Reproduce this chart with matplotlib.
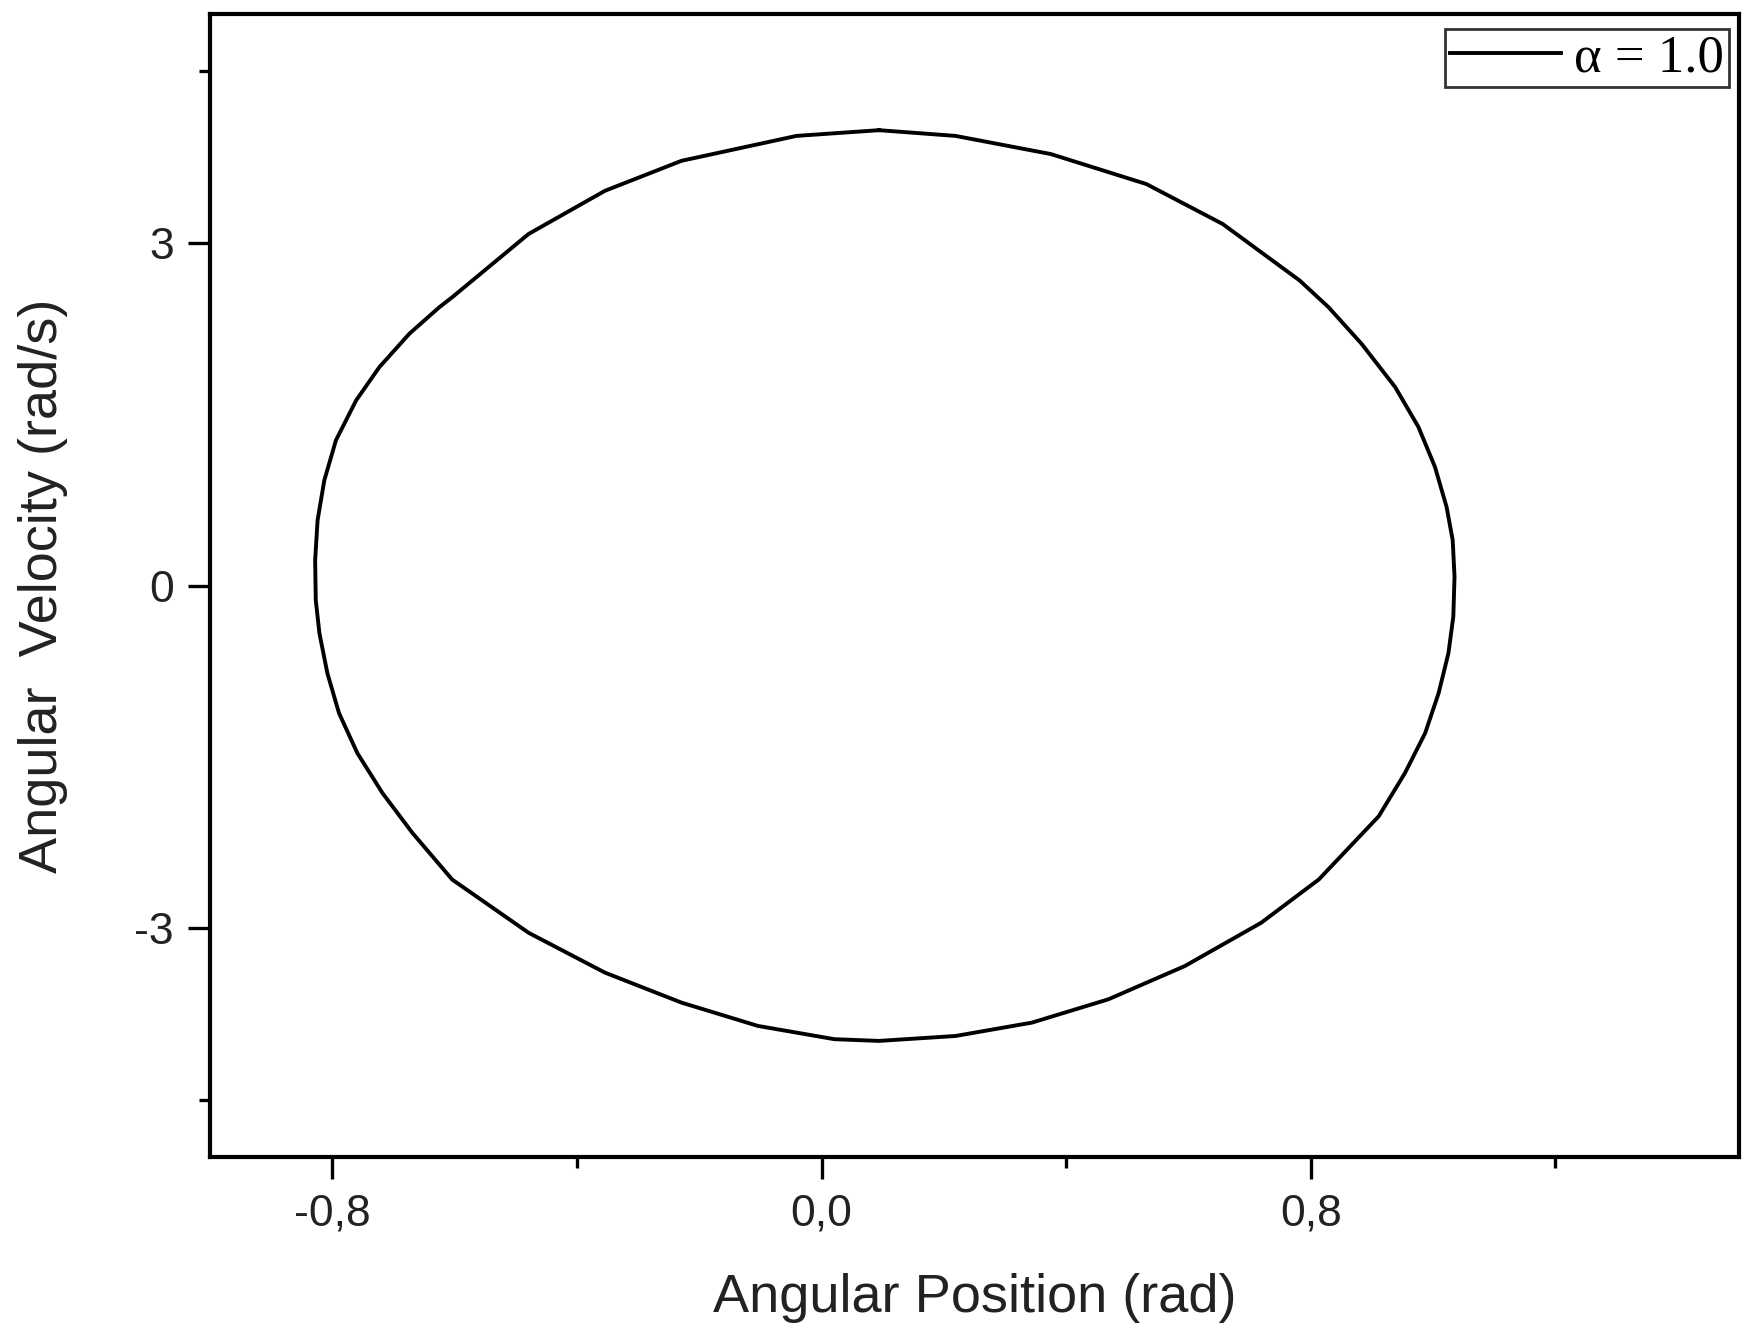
import matplotlib
matplotlib.use('Agg')
import matplotlib.pyplot as plt

# Puntos (posicion angular en rad, velocidad angular en rad/s)
posicion = [0.094, 0.219, 0.375, 0.531, 0.656, 0.782,
            0.829, 0.883, 0.938, 0.976, 1.003, 1.022, 1.032, 1.035, 1.033, 1.025,
            1.009, 0.987, 0.954, 0.911,
            0.813, 0.719, 0.594, 0.469, 0.344, 0.219, 0.094,
            0.021, -0.104, -0.229, -0.354, -0.479, -0.604,
            -0.669, -0.718, -0.759, -0.789, -0.808, -0.821, -0.827,
            -0.828, -0.824, -0.813, -0.794, -0.761, -0.723, -0.674, -0.625, -0.604,
            -0.479, -0.354, -0.229, -0.041, 0.094]
velocidad = [3.984, 3.934, 3.775, 3.513, 3.163, 2.668,
             2.435, 2.115, 1.736, 1.387, 1.038, 0.688, 0.397, 0.077, -0.272, -0.592,
             -0.941, -1.291, -1.640, -2.019,
             -2.572, -2.950, -3.329, -3.620, -3.824, -3.941, -3.984,
             -3.969, -3.853, -3.649, -3.387, -3.038, -2.572,
             -2.164, -1.815, -1.466, -1.116, -0.767, -0.418, -0.127,
             0.223, 0.572, 0.921, 1.271, 1.620, 1.911, 2.203, 2.435, 2.522,
             3.076, 3.454, 3.716, 3.934, 3.984]

xticks = [-0.8, 0.0, 0.8]
xtick_labels = ['-0,8', '0,0', '0,8']
xminor = [-0.4, 0.4, 1.2]
yticks = [-3, 0, 3]
ytick_labels = ['-3', '0', '3']
yminor = [-4.5, 4.5]

plt.rcParams['font.family'] = ['Liberation Sans', 'DejaVu Sans']

fig = plt.figure(figsize=(17.54, 13.39), dpi=100)
ax = fig.add_axes([0.1197, 0.1359, 0.8717, 0.8536])

ax.plot(posicion, velocidad, color='black', linewidth=2.8, solid_joinstyle='round',
        label='α = 1.0')

ax.set_xlim(-1.0, 1.5)
ax.set_ylim(-5, 5)
ax.set_xticks(xticks)
ax.set_xticklabels(xtick_labels)
ax.set_xticks(xminor, minor=True)
ax.set_yticks(yticks)
ax.set_yticklabels(ytick_labels)
ax.set_yticks(yminor, minor=True)

ax.tick_params(which='major', direction='out', length=16, width=2.4, labelsize=32,
               pad=10, colors='black', labelcolor='#222222')
ax.tick_params(which='minor', direction='out', length=8, width=2.4)
for s in ax.spines.values():
    s.set_linewidth(3)

ax.set_xlabel('Angular Position (rad)', fontsize=39, color='#222222', labelpad=28)
ax.set_ylabel('Angular  Velocity (rad/s)', fontsize=39, color='#222222', labelpad=48)

leg = ax.legend(loc='upper right', bbox_to_anchor=(0.9935, 0.987),
                prop={'family': 'Liberation Serif', 'size': 38},
                frameon=True, fancybox=False, handlelength=2.1, handletextpad=0.25,
                borderpad=0.1, borderaxespad=0)
leg.get_frame().set_edgecolor('black')
leg.get_frame().set_linewidth(2)

fig.savefig('out.png', dpi=100)
